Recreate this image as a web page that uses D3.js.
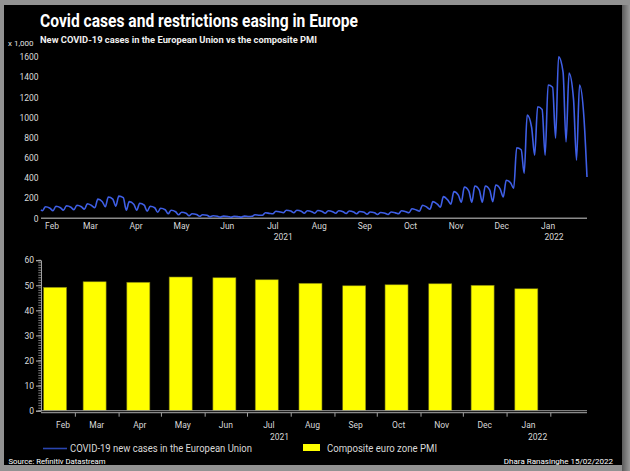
<!DOCTYPE html>
<html><head><meta charset="utf-8">
<script src="https://cdn.jsdelivr.net/npm/d3@7"></script>
<style>html,body{margin:0;padding:0;background:#8f8f8f;} svg{display:block;}</style>
</head><body>
<svg id="chart" width="630" height="471"></svg>
<script>
// ---------------- DATA ----------------
// New COVID-19 cases in the EU (thousands); three readings per week (Mon, Wed, Sat)
const caseFirstDate = "2021-02-07";
const caseFirstValue = 85;
const caseWeekStart = "2021-02-08";
const caseMon = [75,75,80,85,90,105,115,120,80,80,70,60,45,35,25,20,15,12,10,12,20,30,45,55,55,50,50,50,50,48,45,40,38,38,45,55,70,90,110,140,160,160,160,165,212,298,447,626,626,795,758,577];
const caseWed = [115,120,125,130,145,190,212,220,165,150,120,100,80,60,45,35,25,22,20,22,35,55,70,80,80,75,78,75,75,72,68,62,58,62,75,95,130,165,215,265,310,320,320,330,378,700,1024,1106,1322,1603,1440,1322];
const caseSat = [100,105,110,115,125,165,190,205,140,130,105,85,65,50,38,30,20,18,16,18,30,48,62,72,70,66,68,66,65,63,60,54,50,54,65,82,110,140,180,230,270,280,280,290,350,680,900,1080,1300,1450,1180,990];
const caseLastDate = "2022-02-07";
const caseLastValue = 410;

// Composite euro zone PMI (monthly)
const pmiMonths = ["2021-02","2021-03","2021-04","2021-05","2021-06","2021-07","2021-08","2021-09","2021-10","2021-11","2021-12","2022-01"];
const pmiValues = [49.2,51.4,51.2,53.3,53.0,52.2,50.8,49.8,50.2,50.6,50.0,48.6];

const monthNames = ["Feb","Mar","Apr","May","Jun","Jul","Aug","Sep","Oct","Nov","Dec","Jan"];
const caseTicks = [0,200,400,600,800,1000,1200,1400,1600];
const pmiTicks = [0,10,20,30,40,50,60];
const yearLabels = ["2021","2022"];

// --------------- DRAWING ----------------
const parse = d3.timeParse("%Y-%m-%d");
const parseM = d3.timeParse("%Y-%m");
const FONT = "'Liberation Sans Narrow','Roboto','Noto Sans',sans-serif";
const svg = d3.select("#chart");

// frame
const defs = svg.append("defs");
const g1 = defs.append("linearGradient").attr("id","shadowR").attr("x1","0").attr("x2","1");
g1.append("stop").attr("offset","0").attr("stop-color","#5a5a5a");
g1.append("stop").attr("offset","1").attr("stop-color","#9a9a9a");
svg.append("rect").attr("x",0).attr("y",0).attr("width",630).attr("height",471).attr("fill","#929292");
svg.append("rect").attr("x",622).attr("y",5).attr("width",8).attr("height",466).attr("fill","url(#shadowR)");
svg.append("rect").attr("x",4).attr("y",5).attr("width",618).attr("height",460).attr("fill","#000");

// titles
svg.append("text").attr("x",40).attr("y",27).attr("fill","#fff")
  .attr("font-family",FONT).attr("font-weight","bold").attr("font-size",18)
  .attr("textLength",318).attr("lengthAdjust","spacingAndGlyphs")
  .text("Covid cases and restrictions easing in Europe");
svg.append("text").attr("x",40).attr("y",42.5).attr("fill","#f0f0f0")
  .attr("font-family",FONT).attr("font-weight","bold").attr("font-size",9)
  .attr("textLength",277).attr("lengthAdjust","spacingAndGlyphs")
  .text("New COVID-19 cases in the European Union vs the composite PMI");
svg.append("text").attr("x",8).attr("y",46).attr("fill","#e0e0e0")
  .attr("font-family",FONT).attr("font-size",8)
  .text("x 1,000");

// ---- top chart: cases ----
const xTop = d3.scaleTime().domain([parse(caseFirstDate), parse(caseLastDate)]).range([41,587]);
const yTop = d3.scaleLinear().domain([0,1600]).range([218.3,57]);

const casePts = [{d:parse(caseFirstDate), v:caseFirstValue}];
const w0 = parse(caseWeekStart);
caseMon.forEach((v,k)=>{
  const mon = d3.timeDay.offset(w0, 7*k);
  casePts.push({d:mon, v:caseMon[k]});
  casePts.push({d:d3.timeDay.offset(mon,2), v:caseWed[k]});
  casePts.push({d:d3.timeDay.offset(mon,5), v:caseSat[k]});
});
casePts.push({d:parse(caseLastDate), v:caseLastValue});

// y labels
const yAxTop = d3.axisLeft(yTop).tickValues(caseTicks).tickSize(0).tickPadding(3).tickFormat(d3.format("d"));
const gyT = svg.append("g").attr("transform","translate(38.5,0)").call(yAxTop);
gyT.select(".domain").remove();
gyT.selectAll("text").attr("fill","#dcdcdc").attr("font-family",FONT).attr("font-size",8.5).attr("x",0);

// axis line
svg.append("line").attr("x1",41).attr("x2",587).attr("y1",yTop(0)).attr("y2",yTop(0))
  .attr("stroke","#8a8a8a").attr("stroke-width",1.5);

// line
svg.append("path").datum(casePts)
  .attr("fill","none").attr("stroke","#3f5fe6").attr("stroke-width",1.6)
  .attr("d", d3.line().x(p=>xTop(p.d)).y(p=>yTop(p.v)).curve(d3.curveMonotoneX));

// month labels (top)
function monthLabelDates(scale, shiftDays, minX){
  const [d0,d1] = scale.domain();
  const months = d3.timeMonth.range(d3.timeMonth.floor(d0), d1);
  return months.map((m,i)=>{
    const a = Math.max(+m, +d0), b = Math.min(+d3.timeMonth.offset(m,1), +d1);
    return {m, x: Math.max(scale(new Date((a+b)/2 - shiftDays*864e5)), minX)};
  });
}
const topMonths = monthLabelDates(xTop, 4.5, 52).slice(0, monthNames.length);
svg.append("g").selectAll("text").data(topMonths).join("text")
  .attr("x",d=>d.x).attr("y",228.5).attr("text-anchor","middle")
  .attr("fill","#d8d8d8").attr("font-family",FONT).attr("font-size",8.5)
  .text((d,i)=>monthNames[i]);
svg.append("g").selectAll("text").data([parse("2021-07-19"), parse("2022-01-16")]).join("text")
  .attr("x",d=>xTop(d)).attr("y",239.5).attr("text-anchor","middle")
  .attr("fill","#d8d8d8").attr("font-family",FONT).attr("font-size",8.5)
  .text((d,i)=>yearLabels[i]);

// ---- bottom chart: PMI ----
const xBot = d3.scaleTime().domain([parse("2021-02-05"), parse("2022-02-27")]).range([41,587]);
const yBot = d3.scaleLinear().domain([0,60]).range([410.7,260.2]);

// minor ticks
svg.append("g").selectAll("line").data(d3.range(0,61,1)).join("line")
  .attr("x1",38.3).attr("x2",41).attr("y1",d=>yBot(d)).attr("y2",d=>yBot(d))
  .attr("stroke","#a0a0a0").attr("stroke-width",0.8);
const yAxBot = d3.axisLeft(yBot).tickValues(pmiTicks).tickSize(5).tickPadding(2).tickFormat(d3.format("d"));
const gyB = svg.append("g").attr("transform","translate(41,0)").call(yAxBot);
gyB.select(".domain").attr("stroke","#a0a0a0");
gyB.selectAll(".tick line").attr("stroke","#b0b0b0");
gyB.selectAll("text").attr("fill","#dcdcdc").attr("font-family",FONT).attr("font-size",8.5);

// bars
const barW = 23;
svg.append("g").selectAll("rect").data(pmiValues).join("rect")
  .attr("x",(v,i)=>xBot(d3.timeDay.offset(parseM(pmiMonths[i]),14)) - barW/2)
  .attr("y",v=>yBot(v)).attr("width",barW).attr("height",v=>yBot(0)-yBot(v))
  .attr("fill","#ffff00").attr("stroke","#7a7a10").attr("stroke-width",0.6);

// baseline and x-axis
svg.append("line").attr("x1",41).attr("x2",587).attr("y1",yBot(0)).attr("y2",yBot(0))
  .attr("stroke","#9a9a9a").attr("stroke-width",1);
const xAxBot = d3.axisBottom(xBot).ticks(d3.timeMonth.every(1)).tickSize(4).tickFormat("");
const gxB = svg.append("g").attr("transform",`translate(0,${yBot(0)+2})`).call(xAxBot);
gxB.select(".domain").attr("stroke","#8a8a8a").attr("stroke-width",1.2).attr("d","M41,0H587");
gxB.selectAll(".tick line").attr("stroke","#a0a0a0");
gxB.selectAll(".tick").filter(d=>+d===+parse("2021-02-01")).remove();

const botMonths = pmiMonths.map(m=>{
  const a = parseM(m), b = d3.timeMonth.offset(a,1);
  return Math.max(xBot(new Date((+a + +b)/2)), 63);
});
svg.append("g").selectAll("text").data(botMonths).join("text")
  .attr("x",d=>d).attr("y",428).attr("text-anchor","middle")
  .attr("fill","#d8d8d8").attr("font-family",FONT).attr("font-size",8.5)
  .text((d,i)=>monthNames[i]);
svg.append("g").selectAll("text").data([parse("2021-07-24"), parse("2022-01-23")]).join("text")
  .attr("x",d=>xBot(d)).attr("y",439.5).attr("text-anchor","middle")
  .attr("fill","#d8d8d8").attr("font-family",FONT).attr("font-size",8.5)
  .text((d,i)=>yearLabels[i]);

// legend
svg.append("line").attr("x1",43).attr("x2",67).attr("y1",448.5).attr("y2",448.5)
  .attr("stroke","#2a45b0").attr("stroke-width",1.6);
svg.append("text").attr("x",70).attr("y",451.8).attr("fill","#d8d8d8")
  .attr("font-family",FONT).attr("font-size",10)
  .attr("textLength",182).attr("lengthAdjust","spacingAndGlyphs")
  .text("COVID-19 new cases in the European Union");
svg.append("rect").attr("x",303).attr("y",444).attr("width",17).attr("height",7).attr("fill","#ffff00");
svg.append("text").attr("x",327).attr("y",451.8).attr("fill","#d8d8d8")
  .attr("font-family",FONT).attr("font-size",10)
  .attr("textLength",110).attr("lengthAdjust","spacingAndGlyphs")
  .text("Composite euro zone PMI");

// footer
svg.append("text").attr("x",8.5).attr("y",463.5).attr("fill","#ffffff")
  .attr("font-family",FONT).attr("font-size",8)
  .attr("textLength",97).attr("lengthAdjust","spacingAndGlyphs")
  .text("Source: Refinitiv Datastream");
svg.append("text").attr("x",613).attr("y",463.5).attr("text-anchor","end").attr("fill","#ffffff")
  .attr("font-family",FONT).attr("font-size",8)
  .text("Dhara Ranasinghe 15/02/2022");
</script>
</body></html>
